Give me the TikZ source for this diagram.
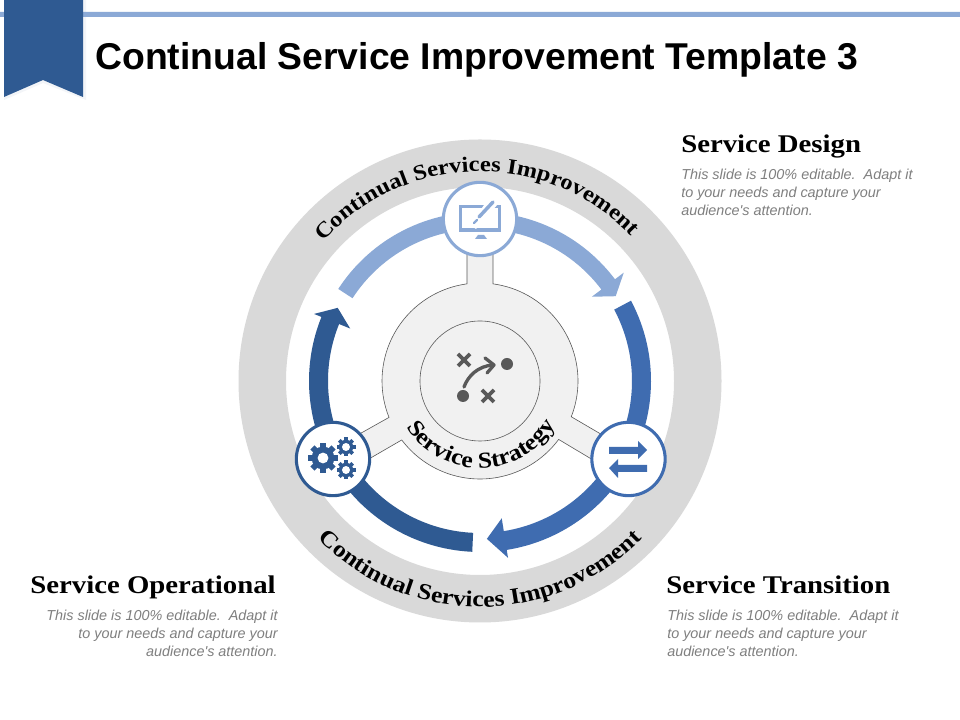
\documentclass[tikz,border=0pt]{standalone}
\usepackage{fontspec}
\setmainfont{Liberation Sans}[Ligatures=TeXOff]
\newfontfamily\headfont{Liberation Serif}[FakeStretch=1.13]
\usetikzlibrary{decorations.text}
\definecolor{bLight}{HTML}{8BA9D6}
\definecolor{bMid}{HTML}{3F6CB0}
\definecolor{bDark}{HTML}{2F5A92}
\definecolor{ringGrey}{HTML}{D9D9D9}
\definecolor{diskFill}{HTML}{F1F1F1}
\definecolor{iconGrey}{HTML}{595959}
\definecolor{bodyGrey}{HTML}{7F7F7F}
\newcommand{\pxfont}[1]{\fontsize{#1}{#1}\selectfont}
\newcommand{\ringfont}{\headfont\bfseries\pxfont{16.3}}
\newcommand{\ringfontb}{\headfont\bfseries\pxfont{17}}
\newcommand{\stratfont}{\headfont\bfseries\pxfont{17}}
\tikzset{
  x=0.75pt,y=0.75pt,
  head/.style={anchor=base west,inner sep=0,font=\headfont\bfseries\pxfont{19.1}},
  body/.style={inner sep=0,font=\itshape\pxfont{10.8},text=bodyGrey,align=#1},
  badge/.style={circle,draw=#1,fill=white,line width=2.3pt,minimum size=55pt,inner sep=0},
  xmark/.style={draw=iconGrey,line width=2.7pt},
}
% tooth-wheel: centre x, y, outer radius, teeth, colour, hole ratio
\newcommand{\toothwheel}[6]{%
  \fill[#5] (#1,#2) circle ({0.76*#3});
  \foreach \t in {1,...,#4}{
    \fill[#5,shift={(#1,#2)},rotate={\t*360/#4}] (0.6*#3,-0.19*#3) rectangle (#3,0.19*#3);
  }
  \fill[white] (#1,#2) circle ({#6*#3});
}
\begin{document}
\begin{tikzpicture}
\useasboundingbox (0,0) rectangle (960,720);
\fill[white] (0,0) rectangle (960,720);
% header
\fill[bDark!6] (4,720) -- (86,720) -- (86,620) -- (43,637) -- (4,620) -- cycle;
\fill[bLight] (0,703) rectangle (4,708) (83,703) rectangle (960,708);
\fill[bDark] (4,720) -- (83,720) -- (83,623) -- (43,640) -- (4,623) -- cycle;
\node[anchor=base west,inner sep=0,font=\bfseries\pxfont{28}] (title) at (95,650) {Continual Service Improvement Template 3};
% rings
\begin{scope}[shift={(480,339)}]
\fill[ringGrey,even odd rule] (0,0) circle (241.5) (0,0) circle (194);
% arrows
\fill[bLight] (147:169) arc (147:37:169) -- (37:180) -- (32:160) -- (37:140) -- (37:152) arc (37:147:152) -- cycle;
\fill[bMid] (28:171) arc (28:-81:171) -- (-81:179) -- (-87.5:158) -- (-81:139) -- (-81:152) arc (-81:28:152) -- cycle;
\fill[bDark] (267.4:171) arc (267.4:158:171) -- (158:179) -- (152.8:160) -- (158:140) -- (158:152) arc (158:267.4:152) -- cycle;
% central disk with tabs
\draw[draw=iconGrey,line width=.45pt,fill=diskFill]
  (97.6:98) arc (97.6:201.8:98) -- (-125,-55.5) -- (-117,-81.4) -- (217:98) arc (217:323.4:98) -- (117,-81.4) -- (125,-55.5) -- (-21.4:98) arc (-21.4:82.4:98) -- (13,128) -- (-13,128) -- cycle;
\draw[draw=iconGrey,line width=.45pt] (0,0) circle (60);
% curved labels
\path[decorate,decoration={text along path,text align=center,text={|\ringfont|Continual Services Improvement}}] (171:209.5) arc (171:11:209.5);
\path[decorate,decoration={text along path,text align=center,text={|\ringfontb|Continual Services Improvement}}] (190:226) arc (190:350:226);
\path[decorate,decoration={text along path,text align=center,text={|\stratfont|Service Strategy}}] (191:87) arc (191:351:87);
\end{scope}
% badges
\node[badge=bLight] (design) at (480,501) {};
\node[badge=bMid] (transition) at (628.5,261) {};
\node[badge=bDark] (operational) at (333,261) {};
% strategy icon
\draw[xmark] (458,366) -- (470,354) (458,354) -- (470,366);
\draw[xmark] (482,330) -- (494,318) (482,318) -- (494,330);
\fill[iconGrey] (507,356) circle (6) (463,324) circle (6);
\draw[iconGrey,line width=2.5pt,line cap=round] (464,333) .. controls (468,344) and (478,354) .. (493,355);
\draw[iconGrey,line width=2.5pt,line cap=round,line join=round] (485,362) -- (494,355) -- (487,347);
% monitor icon
\fill[bLight] (459,488) rectangle (501,515);
\fill[white] (462,492) rectangle (498,512);
\fill[bLight] (478,485) -- (484,485) -- (487,481) -- (475,481) -- cycle;
\fill[white] (470,495) -- (489,522) -- (498,516) -- (476,491) -- cycle;
\draw[bLight,line width=2.6pt,line cap=round] (479,503) -- (493,518);
\draw[bLight,line width=1.7pt,line cap=round] (474,497) -- (477,500);
% gears icon
\toothwheel{323}{262}{15}{8}{bDark}{0.36}
\toothwheel{346}{273}{9.5}{8}{bDark}{0.42}
\toothwheel{346}{250}{9.5}{8}{bDark}{0.42}
% exchange icon
\fill[bMid] (609,273) -- (638,273) -- (638,279) -- (647,270) -- (638,261) -- (638,266) -- (609,266) -- cycle;
\fill[bMid] (647,255) -- (618,255) -- (618,261) -- (609,252) -- (618,242) -- (618,248) -- (647,248) -- cycle;
% text blocks
\node[head] (h1) at (681,567) {Service Design};
\node[body=left,anchor=north west] (b1) at (681,551) {This slide is 100\% editable.\ \ Adapt it\\[2.7pt]to your needs and capture your\\[2.7pt]audience's attention.};
\node[head] (h2) at (666,126) {Service Transition};
\node[body=left,anchor=north west] (b2) at (667,110) {This slide is 100\% editable.\ \ Adapt it\\[2.7pt]to your needs and capture your\\[2.7pt]audience's attention.};
\node[head,anchor=base east] (h3) at (276,126) {Service Operational};
\node[body=right,anchor=north east] (b3) at (278,110) {This slide is 100\% editable.\ \ Adapt it\\[2.7pt]to your needs and capture your\\[2.7pt]audience's attention.};
\end{tikzpicture}
\end{document}
